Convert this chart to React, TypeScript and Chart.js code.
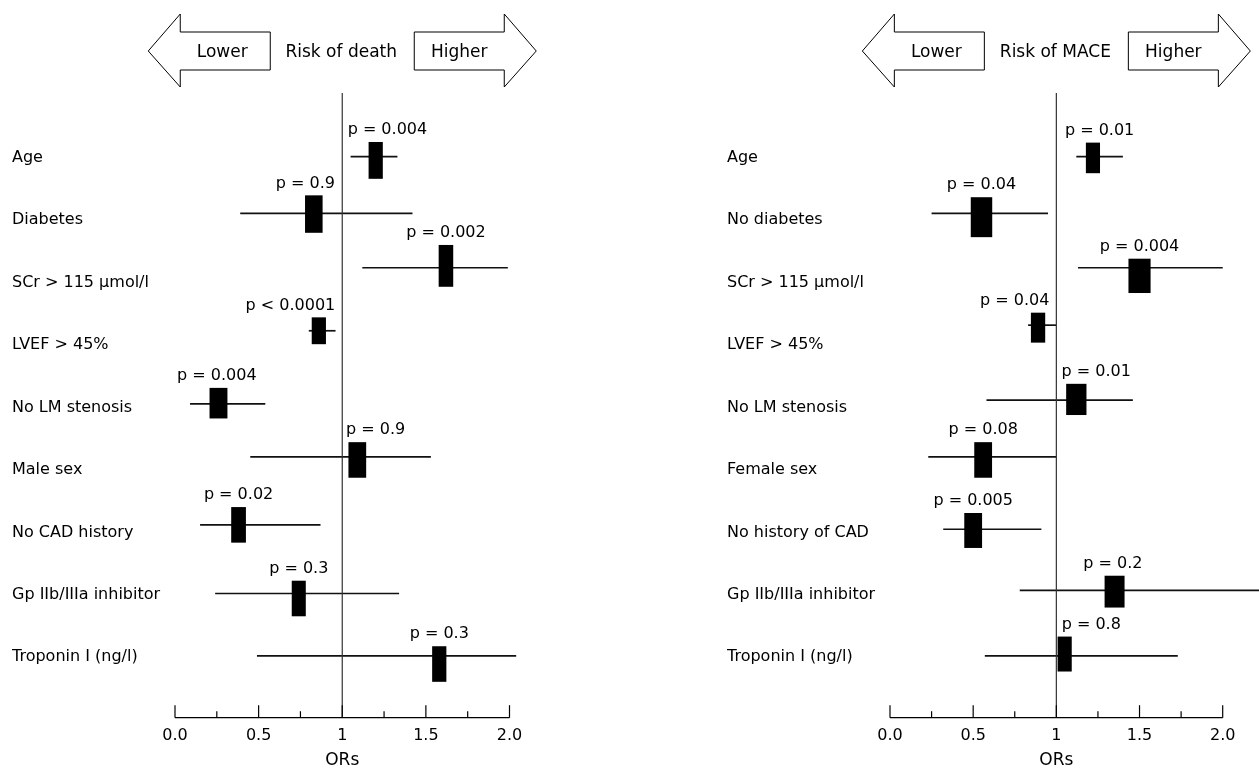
import React, { useEffect, useRef } from "react";
import { Chart, registerables } from "chart.js";

Chart.register(...registerables);

const FONT = "'DejaVu Sans', sans-serif";

// ---------- shared axis data ----------
const rowIndex = [0, 1, 2, 3, 4, 5, 6, 7, 8];
const xMajorTicks = [0, 0.5, 1, 1.5, 2];
const xTickLabels = ["0.0", "0.5", "1", "1.5", "2.0"];
const xMinorTicks = [0.25, 0.75, 1.25, 1.75];
const yMin = -1.04;
const yMax = 8.97;

// ---------- left panel: risk of death ----------
const deathLabels = [
  "Age",
  "Diabetes",
  "SCr > 115 µmol/l",
  "LVEF > 45%",
  "No LM stenosis",
  "Male sex",
  "No CAD history",
  "Gp IIb/IIIa inhibitor",
  "Troponin I (ng/l)",
];
const deathOR = [1.2, 0.83, 1.62, 0.86, 0.26, 1.09, 0.38, 0.74, 1.58];
const deathLow = [1.05, 0.39, 1.12, 0.8, 0.09, 0.45, 0.15, 0.24, 0.49];
const deathHigh = [1.33, 1.42, 1.99, 0.96, 0.54, 1.53, 0.87, 1.34, 2.04];
const deathP = ["p = 0.004", "p = 0.9", "p = 0.002", "p < 0.0001", "p = 0.004", "p = 0.9", "p = 0.02", "p = 0.3", "p = 0.3"];
const deathPX = [1.27, 0.78, 1.62, 0.69, 0.25, 1.2, 0.38, 0.74, 1.58];
const deathRow = [-0.02, 0.89, 1.76, 2.77, 3.94, 4.79, 5.88, 6.98, 7.98];
const deathBoxRow = [0.04, 0.9, 1.73, 2.77, 3.93, 4.84, 5.88, 7.06, 8.11];
const deathWeightX = [0.085, 0.105, 0.087, 0.085, 0.107, 0.106, 0.088, 0.084, 0.085];
const deathWeightY = [0.59, 0.6, 0.67, 0.43, 0.49, 0.57, 0.57, 0.57, 0.57];

// ---------- right panel: risk of MACE ----------
const maceLabels = [
  "Age",
  "No diabetes",
  "SCr > 115 µmol/l",
  "LVEF > 45%",
  "No LM stenosis",
  "Female sex",
  "No history of CAD",
  "Gp IIb/IIIa inhibitor",
  "Troponin I (ng/l)",
];
const maceOR = [1.22, 0.55, 1.5, 0.89, 1.12, 0.56, 0.5, 1.35, 1.05];
const maceLow = [1.12, 0.25, 1.13, 0.83, 0.58, 0.23, 0.32, 0.78, 0.57];
const maceHigh = [1.4, 0.95, 2.0, 1.0, 1.46, 1.0, 0.91, 2.3, 1.73];
const maceP = ["p = 0.01", "p = 0.04", "p = 0.004", "p = 0.04", "p = 0.01", "p = 0.08", "p = 0.005", "p = 0.2", "p = 0.8"];
const macePX = [1.26, 0.55, 1.5, 0.75, 1.24, 0.56, 0.5, 1.34, 1.21];
const maceRow = [-0.02, 0.89, 1.76, 2.68, 3.88, 4.79, 5.95, 6.93, 7.98];
const maceBoxRow = [0.0, 0.95, 1.89, 2.72, 3.87, 4.84, 5.97, 6.95, 7.95];
const maceWeightX = [0.085, 0.129, 0.133, 0.086, 0.122, 0.107, 0.107, 0.12, 0.085];
const maceWeightY = [0.49, 0.64, 0.55, 0.48, 0.5, 0.57, 0.56, 0.51, 0.56];

type PanelData = {
  title: string;
  labels: string[];
  or: number[];
  lo: number[];
  hi: number[];
  p: string[];
  pX: number[];
  row: number[];
  boxRow: number[];
  wX: number[];
  wY: number[];
  padRight: number;
};

const panels: PanelData[] = [
  {
    title: "Risk of death",
    labels: deathLabels,
    or: deathOR,
    lo: deathLow,
    hi: deathHigh,
    p: deathP,
    pX: deathPX,
    row: deathRow,
    boxRow: deathBoxRow,
    wX: deathWeightX,
    wY: deathWeightY,
    padRight: 34.5,
  },
  {
    title: "Risk of MACE",
    labels: maceLabels,
    or: maceOR,
    lo: maceLow,
    hi: maceHigh,
    p: maceP,
    pX: macePX,
    row: maceRow,
    boxRow: maceBoxRow,
    wX: maceWeightX,
    wY: maceWeightY,
    padRight: 36.3,
  },
];

function ForestPanel({ panel }: { panel: PanelData }) {
  const ref = useRef<HTMLCanvasElement>(null);

  useEffect(() => {
    const canvas = ref.current;
    if (!canvas) return;
    const p = panel;

    const refLine = {
      type: "scatter" as const,
      data: [
        { x: 1, y: yMin },
        { x: 1, y: yMax },
      ],
      showLine: true,
      borderColor: "#333",
      borderWidth: 1.2,
      pointRadius: 0,
      clip: false as const,
    };

    const whiskers = p.labels.map((_, i) => ({
      type: "scatter" as const,
      data: [
        { x: p.lo[i], y: p.row[i] },
        { x: p.hi[i], y: p.row[i] },
      ],
      showLine: true,
      borderColor: "#111",
      borderWidth: 1.7,
      pointRadius: 0,
      clip: false as const,
    }));

    const forestPlugin = {
      id: "forestDecor",
      afterDatasetsDraw(chart: any) {
        const { ctx, chartArea } = chart;
        const xs = chart.scales.x;
        const ys = chart.scales.y;
        ctx.save();

        // boxes + p labels
        for (let i = 0; i < p.labels.length; i++) {
          const xa = xs.getPixelForValue(p.or[i] - p.wX[i] / 2);
          const xb = xs.getPixelForValue(p.or[i] + p.wX[i] / 2);
          const ya = ys.getPixelForValue(p.boxRow[i] - p.wY[i] / 2);
          const yb = ys.getPixelForValue(p.boxRow[i] + p.wY[i] / 2);
          const top = Math.min(ya, yb);
          ctx.fillStyle = "#000";
          ctx.fillRect(xa, top, xb - xa, Math.abs(yb - ya));

          ctx.font = `16px ${FONT}`;
          ctx.textAlign = "center";
          ctx.textBaseline = "middle";
          ctx.fillText(p.p[i], xs.getPixelForValue(p.pX[i]), top - 12);
        }

        // axis line + ticks
        const ay = chartArea.bottom;
        ctx.strokeStyle = "#000";
        ctx.lineWidth = 1.3;
        ctx.beginPath();
        ctx.moveTo(xs.getPixelForValue(xMajorTicks[0]), ay);
        ctx.lineTo(xs.getPixelForValue(xMajorTicks[xMajorTicks.length - 1]), ay);
        ctx.stroke();
        ctx.lineWidth = 1.2;
        xMajorTicks.forEach((v) => {
          const px = xs.getPixelForValue(v);
          ctx.beginPath();
          ctx.moveTo(px, ay);
          ctx.lineTo(px, ay - 12.5);
          ctx.stroke();
        });
        xMinorTicks.forEach((v) => {
          const px = xs.getPixelForValue(v);
          ctx.beginPath();
          ctx.moveTo(px, ay);
          ctx.lineTo(px, ay - 6.5);
          ctx.stroke();
        });

        // header arrows
        const cx = xs.getPixelForValue(1);
        const cy = 51;
        ctx.lineWidth = 1;
        ctx.strokeStyle = "#000";
        ctx.fillStyle = "#fff";
        const arrow = (dir: number) => {
          ctx.beginPath();
          ctx.moveTo(cx + dir * 194, cy);
          ctx.lineTo(cx + dir * 162, cy - 37);
          ctx.lineTo(cx + dir * 162, cy - 19);
          ctx.lineTo(cx + dir * 72, cy - 19);
          ctx.lineTo(cx + dir * 72, cy + 19);
          ctx.lineTo(cx + dir * 162, cy + 19);
          ctx.lineTo(cx + dir * 162, cy + 36);
          ctx.closePath();
          ctx.fill();
          ctx.stroke();
        };
        arrow(-1);
        arrow(1);
        ctx.fillStyle = "#000";
        ctx.font = `17px ${FONT}`;
        ctx.textAlign = "center";
        ctx.textBaseline = "middle";
        ctx.fillText("Lower", cx - 120, cy + 2);
        ctx.fillText(p.title, cx - 1, cy + 2);
        ctx.fillText("Higher", cx + 117, cy + 2);

        ctx.restore();
      },
    };

    const chart = new Chart(canvas, {
      type: "scatter",
      data: { datasets: [refLine, ...whiskers] as any },
      options: {
        animation: false,
        responsive: false,
        maintainAspectRatio: false,
        layout: { padding: { left: 12, right: p.padRight, top: 93, bottom: 0 } },
        plugins: {
          legend: { display: false },
          tooltip: { enabled: false },
        },
        scales: {
          x: {
            type: "linear",
            min: 0,
            max: 2,
            afterBuildTicks: (s: any) => {
              s.ticks = xMajorTicks.map((v) => ({ value: v }));
            },
            afterFit: (s: any) => {
              s.height = 53.3;
            },
            ticks: {
              callback: (_v: any, i: number) => xTickLabels[i],
              font: { family: FONT, size: 16 },
              color: "#000",
              padding: 1,
              maxRotation: 0,
              autoSkip: false,
            },
            grid: { display: false },
            border: { display: false },
            title: {
              display: true,
              text: "ORs",
              font: { family: FONT, size: 17 },
              color: "#000",
              padding: { top: 0, bottom: 0 },
            },
          },
          y: {
            type: "linear",
            min: yMin,
            max: yMax,
            reverse: true,
            afterBuildTicks: (s: any) => {
              s.ticks = rowIndex.map((v) => ({ value: v }));
            },
            afterFit: (s: any) => {
              s.width = 163;
            },
            ticks: {
              callback: (v: any) => p.labels[v as number],
              font: { family: FONT, size: 16 },
              color: "#000",
              crossAlign: "far",
              autoSkip: false,
            },
            grid: { display: false },
            border: { display: false },
          },
        },
      } as any,
      plugins: [forestPlugin],
    });

    return () => chart.destroy();
  }, [panel]);

  return <canvas ref={ref} width={544} height={771} style={{ display: "block" }} />;
}

export default function App() {
  return (
    <div
      style={{
        position: "fixed",
        left: 0,
        top: 0,
        width: 1259,
        height: 771,
        background: "#fff",
        overflow: "hidden",
      }}
    >
      <div style={{ position: "absolute", left: 0, top: 0 }}>
        <ForestPanel panel={panels[0]} />
      </div>
      <div style={{ position: "absolute", left: 715, top: 0 }}>
        <ForestPanel panel={panels[1]} />
      </div>
    </div>
  );
}
